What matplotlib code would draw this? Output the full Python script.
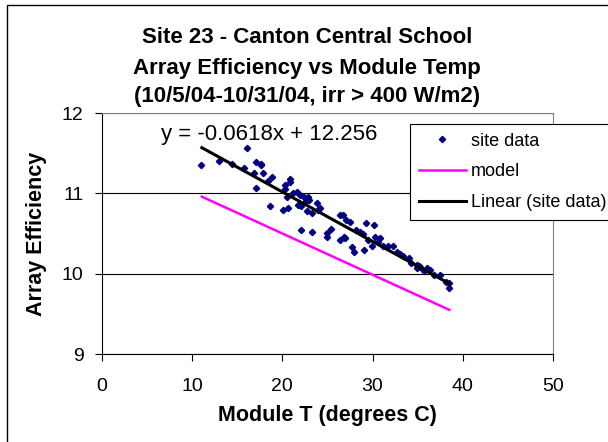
"""
Site 23 array efficiency vs module temperature, Oct 2004
"""

import matplotlib.pyplot as plt
from matplotlib.patches import Rectangle

plt.rcParams['font.family'] = ['Liberation Sans', 'DejaVu Sans']

# site data
module_t = [11.0, 13.0, 14.4, 15.8, 16.1, 17.1, 17.6, 17.7, 16.9, 17.9,
            17.1, 18.4, 18.9, 18.6, 20.3, 20.3, 20.9, 20.9, 20.5, 20.1,
            20.6, 21.6, 22.0, 22.4, 22.9, 21.8, 22.1, 22.6, 22.7, 23.3,
            23.9, 24.2, 22.1, 23.3, 25.0, 25.0, 25.4, 26.4, 26.7, 27.1,
            27.5, 26.4, 26.8, 26.9, 27.7, 27.9, 28.2, 28.6, 29.3, 29.0,
            29.5, 29.9, 30.2, 30.3, 30.8, 31.2, 31.7, 32.3, 32.7, 33.4,
            34.0, 34.2, 34.9, 34.9, 35.3, 35.7, 36.0, 36.4, 36.8, 37.5,
            38.1, 38.5, 38.5, 21.2, 23.0, 24.0, 28.9, 30.6, 33.0, 35.1]
efficiency = [11.35, 11.41, 11.37, 11.32, 11.56, 11.39, 11.37, 11.35, 11.26, 11.26,
              11.07, 11.15, 11.20, 10.84, 11.10, 11.05, 11.18, 11.14, 10.96, 10.80,
              10.82, 11.02, 10.98, 10.96, 10.96, 10.86, 10.84, 10.90, 10.78, 10.76,
              10.88, 10.82, 10.55, 10.52, 10.51, 10.46, 10.56, 10.73, 10.73, 10.67,
              10.65, 10.42, 10.46, 10.44, 10.33, 10.27, 10.55, 10.52, 10.63, 10.29,
              10.42, 10.34, 10.61, 10.46, 10.45, 10.34, 10.35, 10.35, 10.27, 10.22,
              10.20, 10.13, 10.11, 10.07, 10.09, 10.03, 10.07, 10.05, 9.99, 9.98,
              9.90, 9.89, 9.82, 11.00, 10.92, 10.80, 10.50, 10.40, 10.25, 10.10]

# model line endpoints
model_t = [11.1, 38.5]
model_eff = [10.96, 9.55]

# linear trendline (Excel)
slope, intercept = -0.0618, 12.256
fit_t = [11.1, 38.5]
fit_eff = [slope * t + intercept for t in fit_t]

title_lines = ['Site 23 - Canton Central School',
               'Array Efficiency vs Module Temp',
               '(10/5/04-10/31/04, irr > 400 W/m2)']

fig = plt.figure(figsize=(6.08, 4.42), dpi=100)
ax = fig.add_axes([0.167, 0.199, 0.743, 0.545])

ax.set_axisbelow(True)
ax.grid(axis='y', color='black', linewidth=0.8)

ax.plot(module_t, efficiency, 'D', color='#000080', markersize=3.2, label='site data')
ax.plot(model_t, model_eff, color='#ff00ff', linewidth=1.8, label='model')
ax.plot(fit_t, fit_eff, color='black', linewidth=2.2, label='Linear (site data)')

ax.set_xlim(0, 50)
ax.set_ylim(9, 12)
ax.set_xticks(range(0, 51, 10))
ax.set_yticks([9, 10, 11, 12])
ax.tick_params(labelsize=14, length=5, direction='out', color='black')
ax.tick_params(axis='x', pad=12)
ax.tick_params(axis='y', pad=8)

ax.spines['top'].set_color('#808080')
ax.spines['right'].set_color('#808080')

ax.set_xlabel('Module T (degrees C)', fontsize=15.5, fontweight='bold')
ax.set_ylabel('Array Efficiency', fontsize=15.5, fontweight='bold')
ax.xaxis.set_label_coords(0.5, -0.257)
ax.xaxis.label.set_va('center')
ax.yaxis.set_label_coords(-0.143, 0.5)
ax.yaxis.label.set_va('center')

ax.text(6.6, 11.74, 'y = -0.0618x + 12.256', fontsize=16, va='center')

for line, y_px in zip(title_lines, [43, 74, 102]):
    fig.text(0.505, 1 - y_px / 442, line, ha='center', va='baseline',
             fontsize=16, fontweight='bold')

leg = fig.legend(loc='upper left', bbox_to_anchor=(0.674, 0.72), fontsize=13,
                 frameon=True, fancybox=False, edgecolor='black', framealpha=1,
                 borderpad=0.5, labelspacing=0.75, handlelength=2.6, handletextpad=0.3,
                 borderaxespad=0)
leg.get_frame().set_linewidth(0.8)

# outer chart border (runs off the right and bottom edges)
fig.patches.append(Rectangle((7 / 608, -0.05), 1.0, 1 - 5 / 442 + 0.05,
                             transform=fig.transFigure, fill=False,
                             edgecolor='black', linewidth=1))

fig.savefig('out.png', dpi=100)
